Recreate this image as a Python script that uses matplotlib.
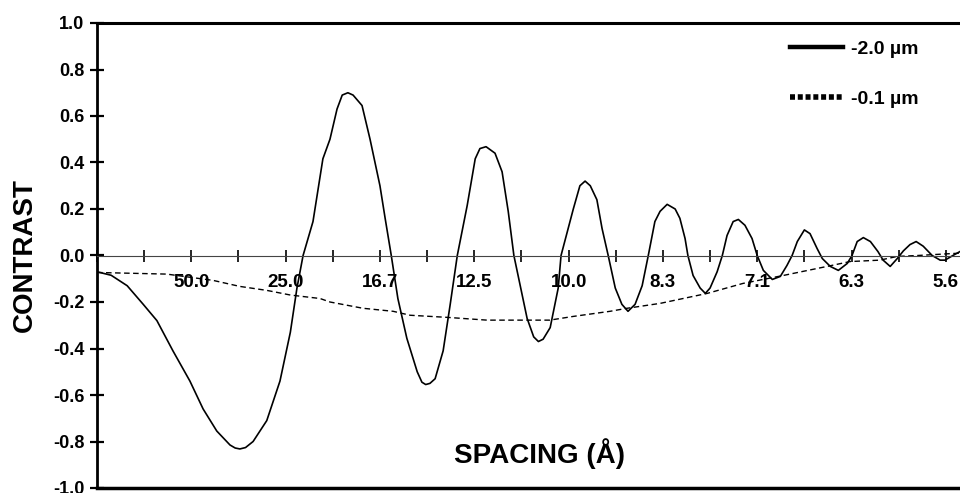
import matplotlib.pyplot as plt
from matplotlib.lines import Line2D
from matplotlib.ticker import MultipleLocator, FixedLocator, FixedFormatter

plt.rcParams['font.family'] = ['Liberation Sans', 'DejaVu Sans']
plt.rcParams['font.weight'] = 'bold'

# spatial frequency (1/Angstrom) vs contrast
freq_2um = [0.0, 0.003, 0.0064, 0.0098, 0.0127, 0.0161, 0.0197, 0.0225, 0.0254,
            0.0282, 0.0293, 0.0303, 0.0315, 0.0331, 0.036, 0.0388, 0.041, 0.0424,
            0.0437, 0.0458, 0.0479, 0.0494, 0.0509, 0.052, 0.0532, 0.0543, 0.0562,
            0.0579, 0.060, 0.0611, 0.0624, 0.0638, 0.0657, 0.0679, 0.0689, 0.0697,
            0.0706, 0.0717, 0.0734, 0.0749, 0.0764, 0.0785, 0.0802, 0.0812, 0.0825,
            0.0844, 0.0859, 0.0872, 0.0884, 0.0912, 0.0926, 0.0936, 0.0946, 0.0961,
            0.0978, 0.0984, 0.101, 0.1024, 0.1035, 0.1046, 0.106, 0.1071, 0.1084,
            0.1099, 0.1113, 0.1126, 0.1141, 0.1156, 0.1169, 0.1183, 0.1194, 0.1209,
            0.1226, 0.1236, 0.1247, 0.1253, 0.1264, 0.1279, 0.129, 0.13, 0.1315,
            0.1326, 0.1336, 0.1349, 0.136, 0.1374, 0.1389, 0.14, 0.1413, 0.1432,
            0.1449, 0.1463, 0.1474, 0.1485, 0.15, 0.1512, 0.1527, 0.1538, 0.1555,
            0.1572, 0.1591, 0.1601, 0.1612, 0.1625, 0.164, 0.1656, 0.1667, 0.1682,
            0.1697, 0.171, 0.1724, 0.1737, 0.1752, 0.1771, 0.1788, 0.1798, 0.1815,
            0.183]
contrast_2um = [-0.07, -0.085, -0.13, -0.21, -0.28, -0.41, -0.54, -0.66, -0.755,
                -0.815, -0.828, -0.832, -0.826, -0.80, -0.71, -0.54, -0.33, -0.14,
                0.0, 0.146, 0.416, 0.50, 0.63, 0.69, 0.70, 0.69, 0.645,
                0.50, 0.30, 0.16, 0.0, -0.185, -0.356, -0.50, -0.545, -0.555,
                -0.55, -0.53, -0.41, -0.21, 0.0, 0.215, 0.416, 0.46, 0.468,
                0.44, 0.36, 0.19, 0.0, -0.27, -0.35, -0.37, -0.36, -0.31,
                -0.14, 0.0, 0.20, 0.30, 0.32, 0.30, 0.24, 0.116, 0.0,
                -0.14, -0.21, -0.24, -0.21, -0.13, 0.0, 0.146, 0.19, 0.22,
                0.20, 0.16, 0.073, 0.0, -0.086, -0.14, -0.163, -0.14, -0.07,
                0.0, 0.086, 0.146, 0.155, 0.13, 0.073, 0.0, -0.064, -0.103,
                -0.09, -0.043, 0.0, 0.06, 0.11, 0.094, 0.03, -0.013, -0.047,
                -0.064, -0.034, 0.0, 0.06, 0.077, 0.06, 0.017, -0.02, -0.047,
                -0.013, 0.02, 0.047, 0.06, 0.04, 0.0, -0.02, -0.02, 0.0,
                0.017]

freq_01um = [0.0, 0.0148, 0.0246, 0.0303, 0.036, 0.041, 0.0473, 0.0494, 0.0564,
             0.0628, 0.0664, 0.0742, 0.0827, 0.096, 0.101, 0.1088, 0.1124, 0.1194,
             0.1294, 0.137, 0.1455, 0.1548, 0.1597, 0.166, 0.1697, 0.174, 0.181,
             0.183]
contrast_01um = [-0.073, -0.08, -0.107, -0.133, -0.15, -0.17, -0.185, -0.20, -0.227,
                 -0.24, -0.257, -0.266, -0.278, -0.278, -0.262, -0.24, -0.227, -0.206,
                 -0.163, -0.12, -0.086, -0.047, -0.026, -0.02, -0.004, 0.0, 0.008,
                 0.01]

label_freqs = [0.02, 0.04, 0.06, 0.08, 0.10, 0.12, 0.14, 0.16, 0.18]
spacing_labels = ['50.0', '25.0', '16.7', '12.5', '10.0', '8.3', '7.1', '6.3', '5.6']

fig = plt.figure(figsize=(9.6, 4.93), dpi=100)
ax = fig.add_axes([97 / 960, 5 / 493, 1 - 97 / 960, 465 / 493])

ax.plot(freq_2um, contrast_2um, color='black', lw=1.2, solid_joinstyle='round')
ax.plot(freq_01um, contrast_01um, color='black', lw=1.0, linestyle=(0, (4, 2.5)))

ax.set_xlim(0, 0.183)
ax.set_ylim(-1.0, 1.0)

# x axis sits on the zero line, frame drawn separately
ax.spines['bottom'].set_position(('data', 0))
ax.spines['bottom'].set_linewidth(0.8)
ax.spines['bottom'].set_color('#444444')
ax.spines['right'].set_visible(False)
ax.spines['left'].set_linewidth(2.0)
ax.spines['top'].set_linewidth(2.2)
ax.axhline(-1.0, color='black', lw=2.5, clip_on=False)

ax.xaxis.set_major_locator(FixedLocator(label_freqs))
ax.xaxis.set_major_formatter(FixedFormatter(spacing_labels))
ax.xaxis.set_minor_locator(MultipleLocator(0.01))
ax.tick_params(axis='x', which='both', direction='inout', length=9, width=1.2,
               labelsize=13.5, pad=9)
ax.yaxis.set_major_locator(MultipleLocator(0.2))
ax.yaxis.set_major_formatter(plt.FuncFormatter(lambda v, p: f'{v:.1f}'))
ax.tick_params(axis='y', direction='inout', length=10, width=1.6, labelsize=13, pad=4)

ax.set_ylabel('CONTRAST', fontsize=20, fontweight='bold', labelpad=11)
ax.text(0.513, 0.075, 'SPACING (Å)', transform=ax.transAxes, ha='center',
        va='center', fontsize=20, fontweight='bold')

handles = [Line2D([], [], color='black', lw=3.2),
           Line2D([], [], color='black', lw=4, linestyle=(0, (0.9, 0.5)))]
ax.legend(handles, ['-2.0 µm', '-0.1 µm'], loc='upper left', frameon=False,
          bbox_to_anchor=(790 / 960, 1 - 40 / 493), bbox_transform=fig.transFigure,
          borderpad=0, borderaxespad=0, handlelength=2.7, handletextpad=0.45,
          labelspacing=1.7, prop={'size': 14, 'weight': 'bold'})

fig.savefig('out.png', dpi=100)
